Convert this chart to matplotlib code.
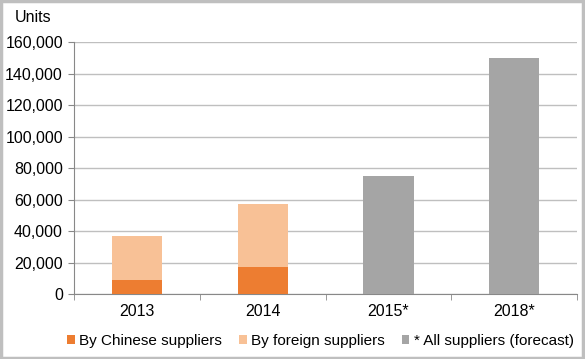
import matplotlib.pyplot as plt
from matplotlib.patches import Rectangle
import numpy as np

years = ['2013', '2014', '2015*', '2018*']
chinese = [9000, 17000, 0, 0]
foreign = [28000, 40000, 0, 0]
all_forecast = [0, 0, 75000, 150000]
yticks = [0, 20000, 40000, 60000, 80000, 100000, 120000, 140000, 160000]

plt.rcParams['font.family'] = ['Liberation Sans', 'DejaVu Sans']

fig = plt.figure(figsize=(5.85, 3.59), dpi=100)
ax = fig.add_axes([0.1265, 0.181, 0.86, 0.702])

x = np.arange(len(years))
w = 0.4
ax.bar(x, chinese, w, color='#ED7D31', label='By Chinese suppliers', zorder=3)
ax.bar(x, foreign, w, bottom=chinese, color='#F8C196', label='By foreign suppliers', zorder=3)
ax.bar(x, all_forecast, w, color='#A5A5A5', label='* All suppliers (forecast)', zorder=3)

ax.set_xlim(-0.5, len(years) - 0.5)
ax.set_ylim(0, 160000)
ax.set_yticks(yticks)
ax.set_yticklabels(['{:,}'.format(v) for v in yticks], fontsize=11.5)
ax.yaxis.grid(True, color='#BFBFBF', linewidth=1, zorder=0)
ax.set_xticks(x)
ax.set_xticklabels(years, fontsize=11.5)
ax.tick_params(axis='x', length=0, pad=7)
ax.tick_params(axis='y', length=4, color='#888888', pad=4)
ax.set_xticks(np.arange(-0.5, len(years)), minor=True)
ax.tick_params(axis='x', which='minor', length=4, color='#888888')

for s in ['top', 'right']:
    ax.spines[s].set_visible(False)
ax.spines['left'].set_color('#888888')
ax.spines['bottom'].set_color('#888888')

fig.text(15 / 585, 1 - 18 / 359, 'Units', fontsize=11.5, va='center', ha='left')

ax.legend(loc='upper center', bbox_to_anchor=(0.49, -0.105), ncol=3, frameon=False,
          fontsize=11, handlelength=0.5, handleheight=0.5, handletextpad=0.3,
          columnspacing=1.1)

fig.patches.append(Rectangle((0.002, 0.003), 0.995, 0.993, transform=fig.transFigure,
                             fill=False, edgecolor='#BFBFBF', linewidth=2.5))

fig.savefig('out.png', dpi=100)
